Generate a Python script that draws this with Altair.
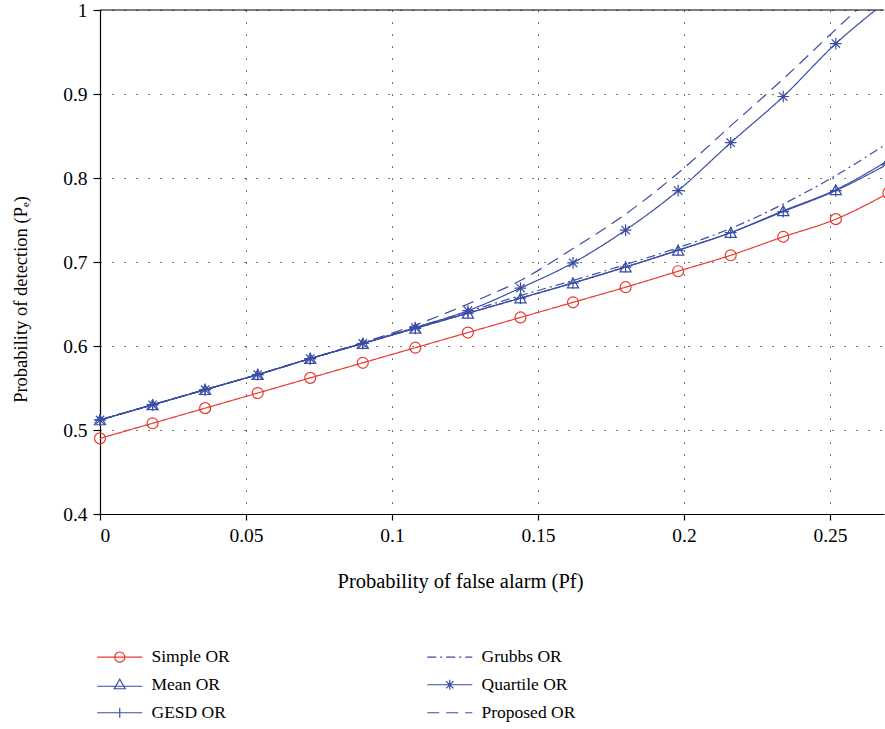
import altair as alt
import pandas as pd

# ---- data ----
pf = [0, 0.018, 0.036, 0.054, 0.072, 0.09, 0.108, 0.126, 0.144, 0.162,
      0.18, 0.198, 0.216, 0.234, 0.252, 0.27]
simple_or = [0.490, 0.508, 0.526, 0.544, 0.562, 0.580, 0.598, 0.616, 0.634, 0.652,
             0.670, 0.689, 0.708, 0.730, 0.751, 0.782]
mean_or = [0.512, 0.530, 0.548, 0.566, 0.585, 0.603, 0.621, 0.639, 0.657, 0.675,
           0.694, 0.714, 0.735, 0.761, 0.786, 0.821]
gesd_or = [0.512, 0.530, 0.548, 0.566, 0.585, 0.603, 0.621, 0.639, 0.657, 0.675,
           0.694, 0.714, 0.735, 0.760, 0.785, 0.817]
grubbs_or = [0.512, 0.530, 0.548, 0.566, 0.585, 0.604, 0.622, 0.641, 0.660, 0.678,
             0.697, 0.717, 0.740, 0.769, 0.803, 0.842]
quartile_or = [0.512, 0.530, 0.548, 0.566, 0.585, 0.603, 0.622, 0.642, 0.669, 0.699,
               0.738, 0.785, 0.842, 0.897, 0.960, 1.012]
proposed_or = [0.512, 0.530, 0.548, 0.566, 0.585, 0.604, 0.625, 0.650, 0.678, 0.716,
               0.757, 0.806, 0.862, 0.918, 0.977, 1.035]

series_names = ["Simple OR", "Mean OR", "GESD OR", "Grubbs OR", "Quartile OR", "Proposed OR"]
series_values = [simple_or, mean_or, gesd_or, grubbs_or, quartile_or, proposed_or]
legend_order = series_names  # filled column by column, 3 rows x 2 columns

x_ticks = [0, 0.05, 0.1, 0.15, 0.2, 0.25]
y_ticks = [0.4, 0.5, 0.6, 0.7, 0.8, 0.9, 1.0]

RED = "#E8392F"
BLUE = "#3A4DA6"
FONT = "Liberation Serif"

colors = {"Simple OR": RED, "Grubbs OR": BLUE, "Mean OR": BLUE,
          "Quartile OR": BLUE, "GESD OR": BLUE, "Proposed OR": BLUE}
dashes = {"Simple OR": [1, 0], "Grubbs OR": [9, 4, 2, 4], "Mean OR": [1, 0],
          "Quartile OR": [1, 0], "GESD OR": [1, 0], "Proposed OR": [12, 7]}
PLUS = "M0,-1V1M-1,0H1"
STAR = "M0,-1V1M-1,0H1M-0.72,-0.72L0.72,0.72M-0.72,0.72L0.72,-0.72"
legend_paths = {
    "Simple OR": "M-4.5,0H4.5M-1,0A1,1 0 1,0 1,0A1,1 0 1,0 -1,0",
    "Grubbs OR": "M-4.5,0H4.5",
    "Mean OR": "M-4.5,0.3H4.5M0,-1.1L1.1,0.8L-1.1,0.8Z",
    "Quartile OR": "M-4.5,0H4.5M0,-1V1M-0.72,-0.72L0.72,0.72M-0.72,0.72L0.72,-0.72",
    "GESD OR": "M-4.5,0H4.5M0,-1V1",
    "Proposed OR": "M-4.5,0H4.5",
}

rows = []
for name, vals in zip(series_names, series_values):
    for xv, yv in zip(pf, vals):
        rows.append({"series": name, "pf": xv, "pd": yv})
df = pd.DataFrame(rows)

xs = alt.Scale(domain=[0, 0.2685], nice=False, zero=False)
ys = alt.Scale(domain=[0.4, 1.0], nice=False, zero=False)
color_scale = alt.Scale(domain=legend_order, range=[colors[s] for s in legend_order])
dash_scale = alt.Scale(domain=legend_order, range=[dashes[s] for s in legend_order])
shape_scale = alt.Scale(domain=legend_order, range=[legend_paths[s] for s in legend_order])

x_enc = alt.X("pf:Q", scale=xs,
              axis=alt.Axis(values=x_ticks, format="~g", title="Probability of false alarm (Pf)",
                            titleX=360, titleY=67, titleBaseline="middle", labelPadding=6,
                            tickSize=6, grid=True, titleFontSize=20.5))
y_enc = alt.Y("pd:Q", scale=ys,
              axis=alt.Axis(values=y_ticks, format="~g", title="Probability of detection (Pₑ)",
                            titleX=-80, titleY=289, titleBaseline="middle", labelPadding=6,
                            tickSize=7, grid=True, titleFontSize=18.5))

base = alt.Chart(df)

# legend-only layer (no marks drawn), placed first so its legend wins the merge
legend_layer = base.transform_filter("false").mark_point(filled=False, strokeWidth=1.2, opacity=1).encode(
    x=x_enc, y=y_enc,
    color=alt.Color("series:N", scale=color_scale, legend=alt.Legend(title=None)),
    shape=alt.Shape("series:N", scale=shape_scale, legend=alt.Legend(title=None)),
    strokeDash=alt.StrokeDash("series:N", scale=dash_scale, legend=alt.Legend(title=None)),
)

lines = base.mark_line(clip=True, strokeWidth=1.2, interpolate="monotone").encode(
    x=alt.X("pf:Q", scale=xs), y=alt.Y("pd:Q", scale=ys),
    color=alt.Color("series:N", scale=color_scale, legend=alt.Legend(title=None)),
    strokeDash=alt.StrokeDash("series:N", scale=dash_scale, legend=alt.Legend(title=None)),
    detail="series:N",
)

def pts(name, shape, size):
    return base.transform_filter(
        (alt.datum.series == name) & (alt.datum.pd <= 1.0)
    ).mark_point(shape=shape, size=size, filled=False, strokeWidth=1.2,
                 color=colors[name], opacity=1).encode(
        x=alt.X("pf:Q", scale=xs), y=alt.Y("pd:Q", scale=ys))

p_simple = pts("Simple OR", "circle", 120)
p_mean = pts("Mean OR", "triangle-up", 125)
p_gesd = pts("GESD OR", PLUS, 135)
p_quart = pts("Quartile OR", STAR, 135)

top_rule = alt.Chart(pd.DataFrame({"v": [1.0]})).mark_rule(color="black", strokeWidth=1.2).encode(
    y=alt.Y("v:Q", scale=ys))

chart = alt.layer(legend_layer, lines, p_simple, p_mean, p_gesd, p_quart, top_rule).properties(
    width=784, height=504,
    autosize=alt.AutoSizeParams(type="none"),
    padding={"left": 100, "top": 10, "right": 1, "bottom": 215},
).configure_view(stroke=None).configure_axis(
    labelFont=FONT, titleFont=FONT, labelFontSize=19.5,
    labelColor="black", titleColor="black", titleFontWeight="normal",
    domainColor="black", domainWidth=1.2, tickColor="black", tickWidth=1.2,
    gridColor="black", gridDash=[1.2, 10.8], gridWidth=1, gridOpacity=0.9,
).configure_legend(
    orient="none", legendX=11, legendY=638, columns=2, columnPadding=194,
    rowPadding=9, labelFont=FONT, labelFontSize=17.5, labelColor="black",
    symbolSize=100, symbolStrokeWidth=1.2, labelOffset=23, labelLimit=300,
)

chart.save("out.html", embed_options={"renderer": "svg", "actions": False})
